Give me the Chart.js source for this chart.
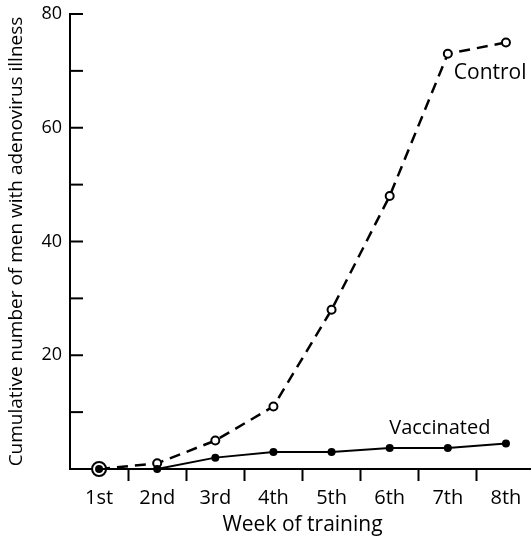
<!DOCTYPE html>
<html>
<head>
<meta charset="utf-8">
<script src="https://cdn.jsdelivr.net/npm/chart.js@4.4.1/dist/chart.umd.min.js"></script>
<style>
  html, body { margin: 0; padding: 0; background: #fff; overflow: hidden; }
  #wrap { position: absolute; left: 0; top: 0; width: 544px; height: 538px; }
</style>
</head>
<body>
<div id="wrap"><canvas id="myChart" width="544" height="538"></canvas></div>
<script>
const weeks = ['1st', '2nd', '3rd', '4th', '5th', '6th', '7th', '8th'];
const control = [0, 1, 5, 11, 28, 48, 73, 75];
const vaccinated = [0, 0, 2, 3, 3, 3.7, 3.7, 4.5];
const yTicks = [20, 40, 60, 80];

const FONT = '"Open Sans"';

// inward ticks on the y axis + series labels
const decor = {
   id: 'decor',
   afterDraw(chart) {
      const c = chart.ctx;
      const x = chart.scales.x, y = chart.scales.y;
      c.save();
      c.strokeStyle = '#000';
      c.lineWidth = 2;
      for (let v = 10; v <= 80; v += 10) {
         const py = y.getPixelForValue(v);
         c.beginPath();
         c.moveTo(x.left, py);
         c.lineTo(x.left + 13, py);
         c.stroke();
      }
      c.fillStyle = '#000';
      c.font = '21px ' + FONT;
      c.textBaseline = 'middle';
      c.textAlign = 'left';
      c.fillText('Control', x.getPixelForValue(6) + 6, y.getPixelForValue(control[6]) + 19);
      c.font = '20px ' + FONT;
      c.textAlign = 'center';
      c.fillText('Vaccinated', x.getPixelForValue(6) - 8, y.getPixelForValue(vaccinated[6]) - 20);
      c.restore();
   }
};

new Chart(document.getElementById('myChart'), {
   type: 'line',
   data: {
      labels: weeks,
      datasets: [{
         label: 'Control',
         data: control,
         order: 2,
         borderColor: '#000',
         borderWidth: 2.5,
         borderDash: [11, 7],
         pointRadius: [7, 4, 4, 4, 4, 4, 4, 4],
         pointBorderWidth: 2,
         pointBackgroundColor: '#fff',
         pointBorderColor: '#000',
         tension: 0
      }, {
         label: 'Vaccinated',
         data: vaccinated,
         order: 1,
         borderColor: '#000',
         borderWidth: 2,
         pointRadius: 4,
         pointBorderWidth: 0,
         pointBackgroundColor: '#000',
         tension: 0
      }]
   },
   options: {
      responsive: false,
      animation: false,
      clip: false,
      layout: { padding: { top: 14, right: 0, left: 0, bottom: 0 } },
      plugins: { legend: { display: false }, tooltip: { enabled: false } },
      scales: {
         x: {
            type: 'category',
            offset: true,
            grid: {
               offset: true,
               drawOnChartArea: false,
               tickLength: 12,
               tickWidth: 2,
               tickColor: ctx => ctx.index === 0 ? 'rgba(0,0,0,0)' : '#000'
            },
            border: { color: '#000', width: 2 },
            ticks: { color: '#000', font: { family: FONT, size: 20 }, padding: 5, maxRotation: 0 },
            title: { display: true, text: 'Week of training', color: '#000', font: { family: FONT, size: 21 }, padding: { top: 2, bottom: 0 } },
            afterFit: s => { s.height = 69; }
         },
         y: {
            min: 0,
            max: 80,
            grid: { display: true, drawOnChartArea: false, drawTicks: false },
            border: { color: '#000', width: 2 },
            ticks: {
               stepSize: 10,
               color: '#000',
               font: { family: FONT, size: 18 },
               padding: 8,
               callback: v => yTicks.includes(v) ? String(v) : ''
            },
            title: { display: true, text: 'Cumulative number of men with adenovirus illness', color: '#000', font: { family: FONT, size: 19 }, padding: { top: 5, bottom: 0 } },
            afterFit: s => { s.width = 70; s.paddingTop = 0; s.paddingBottom = 0; }
         }
      }
   },
   plugins: [decor]
});
</script>
</body>
</html>
